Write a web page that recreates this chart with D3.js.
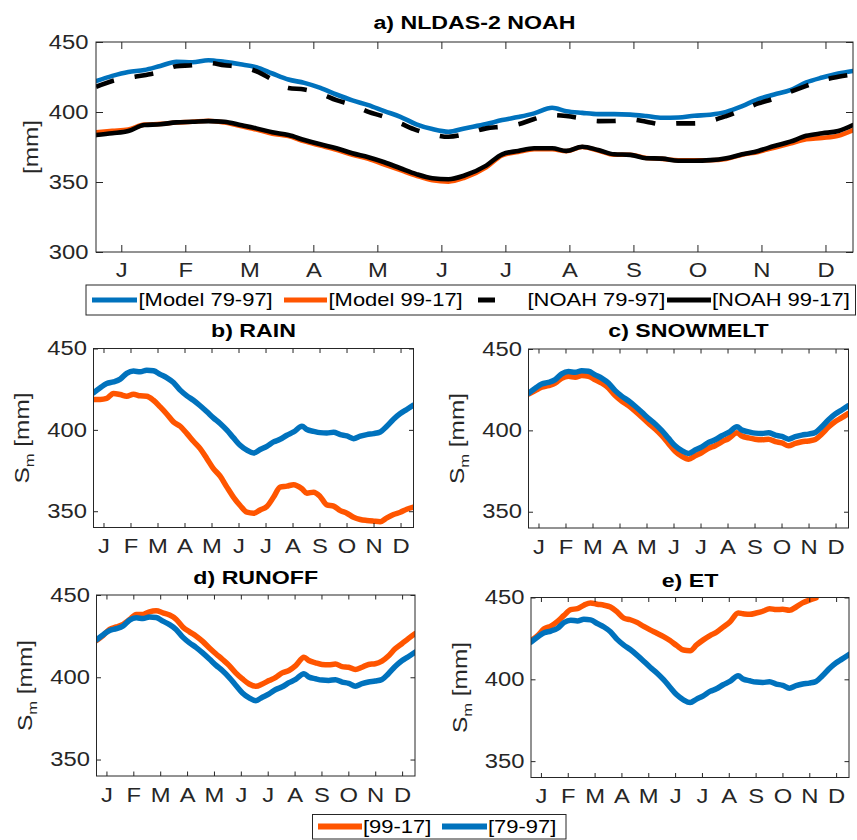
<!DOCTYPE html>
<html>
<head>
<meta charset="utf-8">
<script src="https://cdn.jsdelivr.net/npm/d3@7"></script>
<style>
  body { margin: 0; background: #fff; }
  svg { display: block; }
  text { font-family: "Liberation Sans", Arial, Helvetica, sans-serif; }
</style>
</head>
<body>
<svg id="fig" width="857" height="840"></svg>
<script>
// ---------- data ----------
const months = ["J", "F", "M", "A", "M", "J", "J", "A", "S", "O", "N", "D"];
const monthTicks = [0, 1, 2, 3, 4, 5, 6, 7, 8, 9, 10, 11];
const topYTicks = [300, 350, 400, 450];
const panelYTicks = [350, 400, 450];

// panel a: time in months (0 = mid-January)
const topX = [-0.395, -0.14, 0.11, 0.36, 0.61, 0.86, 1.11, 1.36, 1.61, 1.86, 2.11, 2.36,
  2.61, 2.86, 3.11, 3.36, 3.61, 3.86, 4.11, 4.36, 4.61, 4.86, 5.11, 5.36,
  5.70, 5.95, 6.2, 6.45, 6.73, 6.95, 7.2, 7.45, 7.7, 7.95, 8.2, 8.45,
  8.7, 8.95, 9.2, 9.45, 9.7, 9.95, 10.2, 10.45, 10.7, 10.95, 11.2, 11.43];
const model7997 = [422, 425.8, 428.6, 430, 432.9, 435.8, 435.5, 437, 435.8, 434.1, 432, 427.5,
  423.2, 420.8, 417.2, 412.5, 408.3, 404.9, 400.6, 396.6, 391.2, 387.8, 385.9, 388.3,
  391.4, 394.2, 396.4, 399, 403, 400.6, 399.4, 398.5, 398.5, 398.1, 397.1, 395.9,
  396.1, 397.3, 398.1, 400.1, 404.2, 409.2, 412.5, 415.6, 421.1, 424.6, 427.5, 429.3];
const model9917 = [385.5, 386.5, 387.5, 391, 391.5, 392.5, 393, 393.8, 392.5, 390, 387.5, 384.5,
  382.8, 379, 376, 373, 369.5, 366.5, 362.5, 358.5, 354.5, 351.2, 350.3, 353,
  360.5, 369, 371.5, 373.5, 373.5, 372, 375, 372.5, 369.5, 369.5, 367.2, 366.5,
  365.5, 365.5, 365.5, 366.5, 369.5, 371.5, 374.5, 377.5, 380.5, 381.5, 383, 387];
const noah7997 = [418, 422.2, 424.4, 426.3, 428.6, 432.7, 433.4, 435, 433.4, 432.2, 429.1, 423.2,
  417.2, 416.1, 413.2, 408.5, 404.9, 400.1, 396.6, 391.9, 387.1, 384, 382.3, 384,
  388.3, 389.5, 391.2, 395, 397.8, 397.1, 395.4, 393.5, 393.6, 394.7, 393, 391.2,
  391.9, 391.9, 393.6, 397.1, 401.4, 406.1, 409.7, 414.4, 418.7, 422.7, 425.1, 426.8];
const noah9917 = [383.5, 384.8, 386.4, 390.7, 391.2, 392.6, 393, 393.5, 393, 390.7, 388.3, 385.5,
  383.5, 380, 376.9, 374.1, 370.5, 367.7, 364.1, 359.8, 355.6, 352.7, 352, 354.6,
  361.7, 369.8, 372.2, 374.1, 374.1, 372.2, 375.2, 372.9, 369.8, 369.4, 367, 366.7,
  365.2, 365.2, 365.6, 367, 369.8, 372.2, 375.7, 378.8, 383, 384.8, 386.4, 390.7];
const topLabels = ["[Model 79-97]", "[Model 99-17]", "[NOAH 79-97]", "[NOAH 99-17]"];

// panels b-e
const panelX = [-0.37, -0.12, 0.12, 0.37, 0.62, 0.86, 1.11, 1.36, 1.6, 1.85, 2.1, 2.35,
  2.59, 2.84, 3.09, 3.33, 3.58, 3.83, 4.07, 4.32, 4.57, 4.81, 5.06, 5.31, 5.56,
  5.8, 6.05, 6.3, 6.54, 6.79, 7.04, 7.35, 7.53, 7.78, 8.02, 8.27, 8.52, 8.77,
  9.01, 9.26, 9.51, 9.75, 10, 10.25, 10.49, 10.74, 10.99, 11.23, 11.48];
const base7997 = [422.8, 425.9, 428.5, 429.5, 431.2, 434.7, 436.1, 435.7, 436.7, 436.3, 434.1, 432,
  429.1, 424.4, 420.9, 418.2, 414.8, 411.1, 407.4, 403.9, 399.8, 395.2, 390.5, 387.5, 385.8,
  387.9, 389.9, 392.6, 394.2, 396.7, 398.7, 402.2, 400.2, 399.1, 398.3, 398.1, 398.5, 397.1,
  396.3, 394.6, 396.1, 397.1, 397.7, 398.7, 402.2, 406.5, 410, 412.5, 415.2];
const rain9917 = [418.7, 418.7, 419.3, 422.4, 421.7, 420.7, 421.9, 420.9, 420.7, 418.2, 414.1, 409.6,
  404.9, 402.2, 397.7, 393, 388.5, 382.3, 376.2, 371.5, 364.8, 358.7, 353.5, 349.4, 348.8,
  350.8, 352.9, 358.7, 364.8, 365.4, 366.3, 363.8, 361.1, 361.7, 359.1, 353.9, 353.1, 350.4,
  348.8, 346.3, 344.9, 344.3, 343.9, 343.6, 345.9, 348, 349.4, 351.2, 352.5];
const snow9917 = [422.3, 424.5, 426.5, 427.5, 429, 432, 433.2, 432.7, 433.7, 433.3, 431.1, 429,
  426.1, 421.4, 417.9, 415.2, 411.8, 408.1, 404.4, 400.9, 396.8, 392, 387.2, 384, 382.3,
  384.4, 386.4, 389, 390.6, 393, 395, 398.6, 396.5, 395.4, 394.6, 394.3, 394.6, 393.1,
  392.3, 390.5, 392, 393, 393.5, 394.4, 397.8, 402, 405.5, 407.8, 410.4];
const runoff9917 = [422.4, 425.5, 429.2, 430.6, 432.2, 435.1, 438.2, 438.2, 439.8, 440.4, 439.2, 437.8,
  435.3, 430.6, 427.6, 425.1, 421.8, 417.8, 414.3, 410.8, 407.1, 402.7, 399, 395.9, 394.5,
  395.9, 398, 400, 402.7, 404.1, 407.1, 412.2, 410.2, 408.8, 407.8, 407.6, 408, 406.5,
  406.1, 404.7, 406.1, 407.8, 408.2, 409.8, 412.9, 417.3, 420.4, 423.5, 426.5];
const et9917 = [423.7, 426.7, 430.9, 432.5, 435.4, 439.1, 442.6, 443.2, 445.3, 446.7, 445.9, 445.3,
  444.2, 441.2, 437.4, 436.4, 434.8, 432.3, 430.2, 428.2, 426.1, 423.7, 420.6, 417.9, 417.5,
  421, 424.1, 426.7, 428.8, 431.9, 435, 440.5, 440.1, 439.7, 440.5, 441.6, 443.2, 442.6,
  442.8, 442.2, 444.2, 446.7, 448.4, 449.8, null, null, null, null, null];
const periodLabels = ["[99-17]", "[79-97]"];

// ---------- styling ----------
const BLUE = "#0072BD", ORANGE = "#FF5500", BLACK = "#000000", AXIS = "#262626";
const SX = 1.22;          // horizontal glyph stretch of the figure text
const svg = d3.select("#fig");

function widen(sel, extra) {
  sel.each(function () {
    const t = d3.select(this);
    const x = +t.attr("x") || 0, y = +t.attr("y") || 0;
    t.attr("x", 0).attr("y", 0)
      .attr("transform", `translate(${x},${y})${extra || ""} scale(${SX},1)`);
  });
}

function panel(o) {
  const x = d3.scaleLinear().domain(o.xDomain).range([o.left, o.right]);
  const y = d3.scaleLinear().domain(o.yDomain).range([o.bottom, o.top]);
  const clipId = "clip-" + o.id;
  svg.append("clipPath").attr("id", clipId).append("rect")
    .attr("x", o.left).attr("y", o.top)
    .attr("width", o.right - o.left).attr("height", o.bottom - o.top);

  const g = svg.append("g");
  const line = d3.line()
    .defined(d => d[1] != null)
    .x(d => x(d[0])).y(d => y(d[1]))
    .curve(d3.curveMonotoneX);

  o.series.forEach(s => {
    g.append("path")
      .attr("clip-path", `url(#${clipId})`)
      .attr("d", line(o.xs.map((v, i) => [v, s.values[i]])))
      .attr("fill", "none")
      .attr("stroke", s.color)
      .attr("stroke-width", o.lw)
      .attr("stroke-linejoin", "round")
      .attr("stroke-linecap", s.dash ? "butt" : "round")
      .attr("stroke-dasharray", s.dash || null);
  });

  // axes: inward ticks on all four sides, box outline
  const fs = o.fontSize;
  const axB = svg.append("g").attr("transform", `translate(0,${o.bottom})`)
    .call(d3.axisBottom(x).tickValues(monthTicks).tickFormat(i => months[i])
      .tickSizeInner(-o.tick).tickSizeOuter(0).tickPadding(o.xPad));
  const axT = svg.append("g").attr("transform", `translate(0,${o.top})`)
    .call(d3.axisTop(x).tickValues(monthTicks).tickFormat("")
      .tickSizeInner(-o.tick).tickSizeOuter(0));
  const axL = svg.append("g").attr("transform", `translate(${o.left},0)`)
    .call(d3.axisLeft(y).tickValues(o.yTicks).tickFormat(d3.format("d"))
      .tickSizeInner(-o.tick).tickSizeOuter(0).tickPadding(o.yPad));
  const axR = svg.append("g").attr("transform", `translate(${o.right},0)`)
    .call(d3.axisRight(y).tickValues(o.yTicks).tickFormat("")
      .tickSizeInner(-o.tick).tickSizeOuter(0));
  [axB, axT, axL, axR].forEach(a => {
    a.attr("color", AXIS).attr("font-size", fs);
    a.select(".domain").remove();
    a.selectAll("line").attr("stroke-width", 1);
  });
  widen(axB.selectAll("text"));
  widen(axL.selectAll("text"));

  svg.append("rect")
    .attr("x", o.left).attr("y", o.top)
    .attr("width", o.right - o.left).attr("height", o.bottom - o.top)
    .attr("fill", "none").attr("stroke", AXIS).attr("stroke-width", 1);

  // title
  const tt = svg.append("text")
    .attr("x", (o.left + o.right) / 2).attr("y", o.titleY)
    .attr("text-anchor", "middle").attr("font-weight", "bold")
    .attr("font-size", o.titleSize).attr("fill", "#000")
    .text(o.title);
  widen(tt);

  // y-axis label
  const yl = svg.append("text")
    .attr("x", o.left - o.ylabOff).attr("y", (o.top + o.bottom) / 2)
    .attr("text-anchor", "middle").attr("font-size", o.ylabSize).attr("fill", AXIS);
  if (o.sub) {
    yl.append("tspan").text("S");
    yl.append("tspan").attr("font-size", o.ylabSize * 0.68).attr("dy", 5).text("m");
    yl.append("tspan").attr("dy", -5).text("\u00A0[mm]");
  } else {
    yl.text("[mm]");
  }
  widen(yl, " rotate(-90)");
}

// ---------- panel a ----------
panel({
  id: "a", left: 96, right: 853, top: 42, bottom: 252,
  xDomain: [-0.395, 11.43], yDomain: [300, 450], yTicks: topYTicks,
  xs: topX, lw: 4.6, tick: 7, xPad: 11, yPad: 7.5, fontSize: 19.5,
  title: "a) NLDAS-2 NOAH", titleY: 28.5, titleSize: 19,
  ylabOff: 58, ylabSize: 20, sub: false,
  series: [
    { values: model7997, color: BLUE },
    { values: model9917, color: ORANGE },
    { values: noah7997, color: BLACK, dash: "19,21" },
    { values: noah9917, color: BLACK }
  ]
});

// ---------- panels b-e ----------
const small = [
  { id: "b", title: "b) RAIN", values: rain9917, left: 93.5, right: 413.5, top: 348.5, bottom: 527.5, titleY: 337 },
  { id: "c", title: "c) SNOWMELT", values: snow9917, left: 528.5, right: 848.5, top: 349, bottom: 528, titleY: 337 },
  { id: "d", title: "d) RUNOFF", values: runoff9917, left: 96.5, right: 415, top: 595, bottom: 776, titleY: 583.5 },
  { id: "e", title: "e) ET", values: et9917, left: 531, right: 849, top: 597.5, bottom: 777.5, titleY: 586.5 }
];
small.forEach(p => panel({
  id: p.id, left: p.left, right: p.right, top: p.top, bottom: p.bottom,
  xDomain: [-0.37, 11.48], yDomain: [340, 450], yTicks: panelYTicks,
  xs: panelX, lw: 5.5, tick: 4.5, xPad: 12, yPad: 6.5, fontSize: 19.5,
  title: p.title, titleY: p.titleY, titleSize: 19,
  ylabOff: 64.5, ylabSize: 20, sub: true,
  series: [
    { values: p.values, color: ORANGE },
    { values: base7997, color: BLUE }
  ]
}));

// ---------- legends ----------
function legend(box, items, fs, lw, cy) {
  svg.append("rect")
    .attr("x", box[0]).attr("y", box[1]).attr("width", box[2] - box[0]).attr("height", box[3] - box[1])
    .attr("fill", "#fff").attr("stroke", AXIS).attr("stroke-width", 1);
  items.forEach(it => {
    svg.append("line")
      .attr("x1", it.x0).attr("x2", it.x1).attr("y1", cy).attr("y2", cy)
      .attr("stroke", it.color).attr("stroke-width", lw)
      .attr("stroke-dasharray", it.dash || null);
    const t = svg.append("text")
      .attr("x", it.tx).attr("y", cy + fs * 0.36)
      .attr("font-size", fs).attr("fill", "#000")
      .text(it.label);
    widen(t);
  });
}

legend([86, 285, 855.5, 315], [
  { label: topLabels[0], color: BLUE, x0: 92, x1: 137, tx: 138.5 },
  { label: topLabels[1], color: ORANGE, x0: 284, x1: 327, tx: 328.5 },
  { label: topLabels[2], color: BLACK, x0: 478, x1: 522, tx: 527.5, dash: "17,40" },
  { label: topLabels[3], color: BLACK, x0: 667, x1: 711, tx: 712 }
], 18, 5, 300);

legend([312.5, 814.5, 566, 839], [
  { label: periodLabels[0], color: ORANGE, x0: 318, x1: 362, tx: 363 },
  { label: periodLabels[1], color: BLUE, x0: 442, x1: 487, tx: 488 }
], 18, 6, 826.5);
</script>
</body>
</html>
